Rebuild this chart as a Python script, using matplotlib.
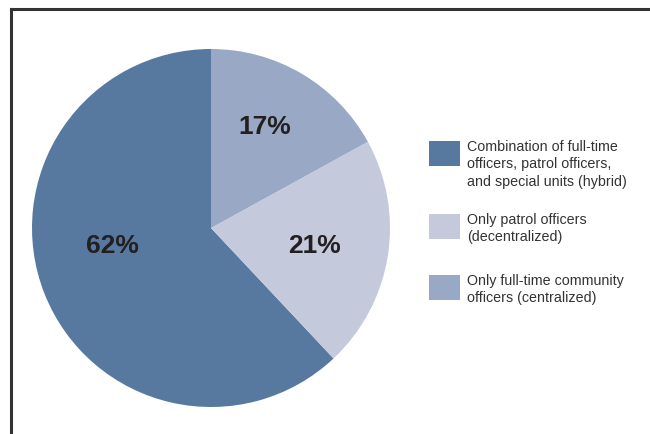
import matplotlib
matplotlib.use("Agg")
import matplotlib.pyplot as plt
from matplotlib.patches import Rectangle
from matplotlib.lines import Line2D

plt.rcParams['font.family'] = ['Liberation Sans', 'DejaVu Sans']

categories = ["Combination of full-time\nofficers, patrol officers,\nand special units (hybrid)",
              "Only patrol officers\n(decentralized)",
              "Only full-time community\nofficers (centralized)"]
values = [62, 21, 17]
colors = ["#58799f", "#c4cadc", "#99a9c5"]

W, H = 650, 434
fig = plt.figure(figsize=(W / 100, H / 100), dpi=100)

# pie axes, centre (211,228) radius 179 px
cx, cy, r = 211, 228, 179
ax = fig.add_axes([(cx - r) / W, (H - cy - r) / H, 2 * r / W, 2 * r / H])
wedges, texts, autotexts = ax.pie(values, colors=colors, startangle=90, counterclock=True,
                                  autopct='%d%%', pctdistance=0.6,
                                  wedgeprops=dict(linewidth=0),
                                  textprops=dict(fontsize=19, fontweight='bold', color='#231f20'))
ax.set_aspect('equal')
ax.set_xlim(-1, 1)
ax.set_ylim(-1, 1)
# label positions nudged to match the original
autotexts[0].set_position((-0.55, -0.1))
autotexts[1].set_position((0.58, -0.1))
autotexts[2].set_position((0.3, 0.565))

# frame lines (cropped box)
fig.add_artist(Line2D([11 / W, 1], [1 - 9 / H, 1 - 9 / H], color='#333333', lw=2.2))
fig.add_artist(Line2D([11 / W, 11 / W], [0, 1 - 9 / H], color='#333333', lw=2.2))

# legend
tops = [141, 214, 275]
for lab, col, top in zip(categories, colors, tops):
    fig.add_artist(Rectangle((429 / W, 1 - (top + 25) / H), 31 / W, 25 / H,
                             facecolor=col, edgecolor='none', transform=fig.transFigure))
    fig.text(467 / W, 1 - (top - 1) / H, lab, fontsize=10.3, color='#333333',
             va='top', ha='left', linespacing=1.3)

fig.savefig("out.png", dpi=100, facecolor='white')
